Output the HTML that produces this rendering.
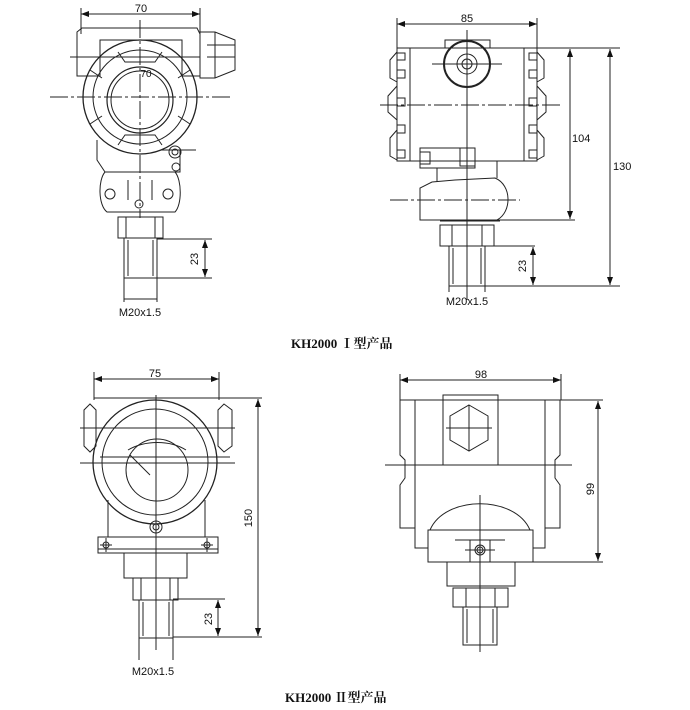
<!DOCTYPE html>
<html><head><meta charset="utf-8"><style>
html,body{margin:0;padding:0;background:#fff;}
svg{display:block;}
text{font-family:"Liberation Sans",sans-serif;fill:#111;}
.cap{font-family:"Liberation Serif","Noto Serif CJK SC",serif;font-weight:bold;font-size:13px;}
</style></head><body>
<svg width="690" height="710" viewBox="0 0 690 710" xmlns="http://www.w3.org/2000/svg">
<defs>
<marker id="a" markerWidth="8" markerHeight="6" refX="8" refY="3" orient="auto-start-reverse"><path d="M0,0 L8,3 L0,6 z" fill="#111"/></marker>
</defs>
<g fill="none" stroke="#222" stroke-width="1">
<line x1="81" y1="14" x2="200" y2="14" marker-start="url(#a)" marker-end="url(#a)"/>
<line x1="81" y1="8" x2="81" y2="34"/><line x1="200" y1="8" x2="200" y2="34"/>
<path d="M77,32 L82,28 L197,28 L200,34 L200,76 L182,76 L182,40 L100,40 L100,76 L77,76 Z"/>
<path d="M200,32 L215,32 L235,40 L235,70 L215,78 L200,78 Z"/>
<line x1="215" y1="32" x2="215" y2="78"/><line x1="207" y1="45" x2="235" y2="45"/><line x1="207" y1="57" x2="235" y2="57"/>
<circle cx="140" cy="97" r="57" stroke-width="1.3"/>
<circle cx="140" cy="97" r="47"/>
<circle cx="140" cy="100" r="33" stroke-width="1.2"/>
<circle cx="140" cy="100" r="29"/>
<path d="M118,52 L125,62 L155,62 L162,52 M90,70 L102,78 M190,70 L178,78 M90,124 L102,116 M190,124 L178,116 M118,145 L125,135 L155,135 L162,145"/>
<line x1="140" y1="20" x2="140" y2="218" stroke-dasharray="18,3,3,3"/>
<line x1="50" y1="97" x2="232" y2="97" stroke-dasharray="18,3,3,3"/>
<line x1="70" y1="57" x2="200" y2="57"/>
<path d="M97,140 L97,160 L105,172 L180,172 L180,150"/>
<circle cx="175" cy="152" r="6"/><circle cx="175" cy="152" r="3"/><circle cx="176" cy="167" r="4"/>
<line x1="160" y1="150" x2="196" y2="150"/>
<path d="M105,172 C98,180 98,205 107,212 L175,212 C182,205 182,180 175,172"/>
<circle cx="110" cy="194" r="5"/><circle cx="168" cy="194" r="5"/><circle cx="139" cy="204" r="4"/>
<line x1="128" y1="180" x2="128" y2="200"/><line x1="152" y1="180" x2="152" y2="200"/>
<rect x="118" y="217" width="45" height="21"/><line x1="126" y1="217" x2="126" y2="238"/><line x1="155" y1="217" x2="155" y2="238"/>
<rect x="124" y="238" width="33" height="40"/><line x1="128" y1="240" x2="128" y2="276"/><line x1="153" y1="240" x2="153" y2="276"/>
<line x1="124" y1="278" x2="124" y2="302"/><line x1="157" y1="278" x2="157" y2="302"/>
<line x1="124" y1="299" x2="157" y2="299"/>
<line x1="157" y1="239" x2="212" y2="239"/><line x1="157" y1="278" x2="212" y2="278"/>
<line x1="205" y1="240" x2="205" y2="277" marker-start="url(#a)" marker-end="url(#a)"/>
<line x1="397" y1="24" x2="537" y2="24" marker-start="url(#a)" marker-end="url(#a)"/>
<line x1="397" y1="18" x2="397" y2="48"/><line x1="537" y1="18" x2="537" y2="48"/>
<rect x="397" y="48" width="140" height="113"/>
<line x1="410" y1="48" x2="410" y2="161"/><line x1="524" y1="48" x2="524" y2="161"/>
<path d="M397,52 L390,60 L390,78 L397,82 M397,86 L388,96 L388,112 L397,120 M397,130 L390,138 L390,156 L397,160"/>
<path d="M537,52 L544,60 L544,78 L537,82 M537,86 L546,96 L546,112 L537,120 M537,130 L544,138 L544,156 L537,160"/>
<rect x="397" y="53" width="8" height="7"/><rect x="397" y="70" width="8" height="8"/><rect x="397" y="98" width="8" height="8"/><rect x="397" y="125" width="8" height="8"/><rect x="397" y="150" width="8" height="8"/>
<rect x="529" y="53" width="8" height="7"/><rect x="529" y="70" width="8" height="8"/><rect x="529" y="98" width="8" height="8"/><rect x="529" y="125" width="8" height="8"/><rect x="529" y="150" width="8" height="8"/>
<path d="M445,48 L445,40 L490,40 L490,48"/>
<circle cx="467" cy="64" r="23" stroke-width="2"/><circle cx="467" cy="64" r="10"/><circle cx="467" cy="64" r="5"/>
<line x1="432" y1="64" x2="502" y2="64"/>
<line x1="380" y1="105" x2="560" y2="105" stroke-dasharray="18,3,3,3"/>
<line x1="467" y1="30" x2="467" y2="300"/>
<rect x="420" y="148" width="55" height="20"/><rect x="460" y="148" width="15" height="18"/><rect x="420" y="152" width="10" height="12"/>
<path d="M437,168 L437,182 M497,161 L497,178"/>
<path d="M432,182 L455,180 L495,178 C512,185 512,212 497,220 L420,220 L420,188 Z"/>
<line x1="390" y1="200" x2="520" y2="200" stroke-dasharray="18,3,3,3"/>
<line x1="440" y1="221" x2="500" y2="221"/>
<rect x="440" y="225" width="54" height="21"/><line x1="452" y1="225" x2="452" y2="246"/><line x1="482" y1="225" x2="482" y2="246"/>
<rect x="449" y="246" width="36" height="40"/><line x1="453" y1="248" x2="453" y2="284"/><line x1="481" y1="248" x2="481" y2="284"/>
<line x1="449" y1="286" x2="449" y2="292"/><line x1="485" y1="286" x2="485" y2="292"/>
<line x1="537" y1="48" x2="620" y2="48"/><line x1="497" y1="220" x2="575" y2="220"/>
<line x1="485" y1="246" x2="535" y2="246"/><line x1="485" y1="286" x2="620" y2="286"/>
<line x1="570" y1="49" x2="570" y2="219" marker-start="url(#a)" marker-end="url(#a)"/>
<line x1="610" y1="49" x2="610" y2="285" marker-start="url(#a)" marker-end="url(#a)"/>
<line x1="533" y1="247" x2="533" y2="285" marker-start="url(#a)" marker-end="url(#a)"/>
<line x1="94" y1="379" x2="219" y2="379" marker-start="url(#a)" marker-end="url(#a)"/>
<line x1="94" y1="372" x2="94" y2="400"/><line x1="219" y1="372" x2="219" y2="400"/>
<line x1="94" y1="398" x2="262" y2="398"/>
<circle cx="155" cy="462" r="62" stroke-width="1.3"/><circle cx="155" cy="462" r="53"/>
<circle cx="157" cy="470" r="31"/>
<path d="M128,450 C145,440 170,440 186,450" />
<line x1="130" y1="455" x2="150" y2="475"/>
<path d="M84,410 L90,404 L96,410 L96,446 L90,452 L84,446 Z"/><path d="M218,410 L224,404 L232,410 L232,446 L224,452 L218,446 Z"/>
<line x1="80" y1="428" x2="235" y2="428"/><line x1="80" y1="463" x2="235" y2="463"/>
<line x1="100" y1="457" x2="230" y2="457"/>
<line x1="156" y1="395" x2="156" y2="650"/>
<circle cx="156" cy="527" r="6"/><circle cx="156" cy="527" r="3"/>
<path d="M98,537 L218,537 L218,553 L98,553 Z"/><line x1="98" y1="549" x2="218" y2="549"/>
<circle cx="106" cy="545" r="3"/><circle cx="207" cy="545" r="3"/>
<line x1="106" y1="538" x2="106" y2="552"/><line x1="207" y1="538" x2="207" y2="552"/>
<line x1="100" y1="545" x2="112" y2="545"/><line x1="201" y1="545" x2="213" y2="545"/>
<line x1="108" y1="500" x2="108" y2="537"/><line x1="205" y1="500" x2="205" y2="537"/>
<rect x="124" y="553" width="63" height="25"/>
<rect x="133" y="578" width="45" height="22"/><line x1="141" y1="578" x2="141" y2="600"/><line x1="170" y1="578" x2="170" y2="600"/>
<rect x="139" y="600" width="34" height="38"/><line x1="143" y1="602" x2="143" y2="636"/><line x1="169" y1="602" x2="169" y2="636"/>
<line x1="139" y1="638" x2="139" y2="660"/><line x1="173" y1="638" x2="173" y2="660"/>
<line x1="173" y1="599" x2="225" y2="599"/><line x1="173" y1="637" x2="262" y2="637"/>
<line x1="218" y1="600" x2="218" y2="636" marker-start="url(#a)" marker-end="url(#a)"/>
<line x1="258" y1="399" x2="258" y2="636" marker-start="url(#a)" marker-end="url(#a)"/>
<line x1="400" y1="380" x2="561" y2="380" marker-start="url(#a)" marker-end="url(#a)"/>
<line x1="400" y1="374" x2="400" y2="400"/><line x1="561" y1="374" x2="561" y2="400"/>
<path d="M400,400 L415,400 L415,528 L400,528 L400,485 L405,478 L405,460 L400,455 Z"/>
<path d="M560,400 L545,400 L545,528 L560,528 L560,485 L555,478 L555,460 L560,455 Z"/>
<line x1="415" y1="400" x2="603" y2="400"/>
<rect x="443" y="395" width="55" height="70"/>
<path d="M469,405 L488,416 L488,440 L469,451 L450,440 L450,416 Z"/>
<line x1="446" y1="428" x2="492" y2="428"/><line x1="469" y1="405" x2="469" y2="451"/>
<line x1="385" y1="465" x2="572" y2="465"/>
<path d="M430,530 C445,495 515,495 530,530"/>
<line x1="480" y1="495" x2="480" y2="652"/>
<path d="M415,528 L415,548 L428,548 M545,528 L545,548 L533,548"/>
<rect x="428" y="530" width="105" height="32"/>
<rect x="470" y="540" width="20" height="22"/><circle cx="480" cy="550" r="5"/><circle cx="480" cy="550" r="3"/>
<line x1="455" y1="540" x2="505" y2="540"/><line x1="465" y1="550" x2="495" y2="550"/>
<line x1="533" y1="562" x2="603" y2="562"/>
<rect x="447" y="562" width="68" height="24"/>
<rect x="453" y="588" width="55" height="19"/><line x1="466" y1="588" x2="466" y2="607"/><line x1="495" y1="588" x2="495" y2="607"/>
<rect x="463" y="607" width="34" height="38"/><line x1="467" y1="609" x2="467" y2="643"/><line x1="493" y1="609" x2="493" y2="643"/>
<line x1="598" y1="401" x2="598" y2="561" marker-start="url(#a)" marker-end="url(#a)"/>
</g>
<text x="141" y="12" font-size="11" text-anchor="middle">70</text>
<text x="146" y="77" font-size="10" text-anchor="middle">70</text>
<text x="198" y="259" font-size="11" text-anchor="middle" transform="rotate(-90 198 259)">23</text>
<text x="140" y="316" font-size="11" text-anchor="middle">M20x1.5</text>
<text x="467" y="22" font-size="11" text-anchor="middle">85</text>
<text x="572" y="142" font-size="11">104</text>
<text x="613" y="170" font-size="11">130</text>
<text x="526" y="266" font-size="11" text-anchor="middle" transform="rotate(-90 526 266)">23</text>
<text x="467" y="305" font-size="11" text-anchor="middle">M20x1.5</text>
<text x="291" y="348" class="cap">KH2000 Ⅰ型产品</text>
<text x="155" y="377" font-size="11" text-anchor="middle">75</text>
<text x="252" y="518" font-size="11" text-anchor="middle" transform="rotate(-90 252 518)">150</text>
<text x="212" y="619" font-size="11" text-anchor="middle" transform="rotate(-90 212 619)">23</text>
<text x="153" y="675" font-size="11" text-anchor="middle">M20x1.5</text>
<text x="481" y="378" font-size="11" text-anchor="middle">98</text>
<text x="594" y="489" font-size="11" text-anchor="middle" transform="rotate(-90 594 489)">99</text>
<text x="285" y="702" class="cap">KH2000 Ⅱ型产品</text>
</svg>
</body></html>
